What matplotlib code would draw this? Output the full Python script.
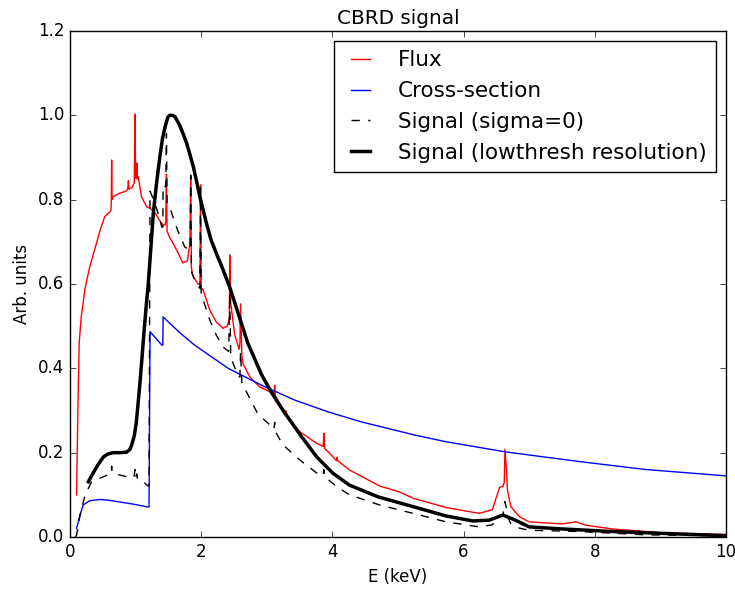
import matplotlib
matplotlib.use("Agg")
import matplotlib.pyplot as plt

plt.style.use("classic")

# Flux (red)
flux_E = [0.10, 0.12, 0.14, 0.17, 0.23, 0.30, 0.36, 0.46, 0.53, 0.60, 0.625, 0.63, 0.635, 0.64,
          0.66, 0.75, 0.85, 0.88, 0.89, 0.90, 0.95, 0.98, 0.99, 1.00, 1.01, 1.02, 1.03, 1.04,
          1.09, 1.17, 1.22, 1.29, 1.37, 1.42, 1.45, 1.46, 1.47, 1.48, 1.52, 1.57, 1.65, 1.72,
          1.79, 1.83, 1.84, 1.85, 1.87, 1.95, 1.98, 1.99, 2.00, 2.03, 2.13, 2.23, 2.33, 2.40,
          2.43, 2.435, 2.45, 2.51, 2.58, 2.59, 2.60, 2.62, 2.64, 2.74, 2.89, 3.04, 3.11, 3.12,
          3.13, 3.27, 3.29, 3.31, 3.50, 3.76, 3.86, 3.87, 3.88, 3.95, 4.06, 4.07, 4.08, 4.26,
          4.72, 5.02, 5.23, 5.73, 6.24, 6.44, 6.49, 6.55, 6.60, 6.62, 6.63, 6.65, 6.67, 6.72,
          6.85, 7.00, 7.50, 7.71, 7.86, 8.27, 9.03, 10.0]
flux_val = [0.10, 0.30, 0.46, 0.52, 0.59, 0.64, 0.673, 0.728, 0.76, 0.77, 0.775, 0.80, 0.894, 0.80,
            0.807, 0.815, 0.82, 0.825, 0.845, 0.825, 0.83, 0.84, 1.003, 0.86, 0.85, 0.887, 0.85, 0.854,
            0.807, 0.783, 0.78, 0.77, 0.75, 0.74, 0.74, 0.75, 0.86, 0.725, 0.71, 0.697, 0.673, 0.65,
            0.655, 0.70, 0.858, 0.64, 0.62, 0.60, 0.60, 0.835, 0.59, 0.586, 0.538, 0.51, 0.495, 0.50,
            0.52, 0.669, 0.555, 0.48, 0.445, 0.46, 0.553, 0.43, 0.41, 0.38, 0.356, 0.345, 0.338, 0.36,
            0.335, 0.297, 0.30, 0.288, 0.25, 0.222, 0.215, 0.246, 0.21, 0.20, 0.181, 0.189, 0.181, 0.159,
            0.121, 0.107, 0.092, 0.070, 0.056, 0.065, 0.09, 0.118, 0.12, 0.13, 0.208, 0.167, 0.11, 0.072,
            0.048, 0.036, 0.031, 0.036, 0.028, 0.019, 0.010, 0.006]

# Cross-section (blue)
xsec_E = [0.10, 0.15, 0.20, 0.30, 0.46, 0.60, 0.80, 1.00, 1.19, 1.205, 1.22, 1.40, 1.415, 1.42,
          1.50, 1.67, 1.90, 2.41, 2.92, 3.42, 3.93, 4.44, 5.25, 5.73, 6.63, 7.76, 8.78, 10.0]
xsec_val = [0.02, 0.05, 0.076, 0.086, 0.089, 0.087, 0.082, 0.077, 0.071, 0.071, 0.487, 0.455, 0.455, 0.522,
            0.51, 0.485, 0.455, 0.40, 0.36, 0.325, 0.297, 0.273, 0.242, 0.226, 0.202, 0.179, 0.16, 0.145]

# Signal, sigma=0 (dashed)
sig0_E = [0.08, 0.10, 0.15, 0.23, 0.33, 0.51, 0.625, 0.63, 0.635, 0.64, 0.76, 0.86, 0.89, 0.90,
          0.98, 0.99, 1.00, 1.02, 1.03, 1.10, 1.19, 1.205, 1.22, 1.30, 1.40, 1.415, 1.42, 1.46,
          1.47, 1.48, 1.52, 1.60, 1.67, 1.75, 1.83, 1.84, 1.85, 1.90, 1.98, 1.99, 2.00, 2.03,
          2.13, 2.23, 2.33, 2.42, 2.435, 2.45, 2.49, 2.57, 2.59, 2.60, 2.62, 2.86, 3.07, 3.11,
          3.12, 3.13, 3.25, 3.50, 3.80, 3.86, 3.87, 3.88, 4.07, 4.26, 4.72, 5.23, 5.73, 6.24,
          6.44, 6.49, 6.55, 6.60, 6.63, 6.65, 6.67, 6.72, 6.85, 7.00, 7.76, 8.78, 10.0]
sig0_val = [0.0, 0.004, 0.05, 0.10, 0.131, 0.143, 0.15, 0.152, 0.168, 0.152, 0.147, 0.143, 0.146, 0.143,
            0.145, 0.16, 0.14, 0.15, 0.137, 0.133, 0.121, 0.121, 0.82, 0.79, 0.735, 0.735, 0.835, 0.83,
            0.957, 0.79, 0.783, 0.744, 0.716, 0.688, 0.68, 0.858, 0.63, 0.61, 0.59, 0.828, 0.575, 0.562,
            0.515, 0.479, 0.451, 0.44, 0.578, 0.43, 0.41, 0.38, 0.38, 0.44, 0.365, 0.293, 0.262, 0.255,
            0.272, 0.25, 0.218, 0.183, 0.147, 0.146, 0.16, 0.143, 0.119, 0.10, 0.076, 0.056, 0.036, 0.024,
            0.029, 0.04, 0.052, 0.053, 0.084, 0.07, 0.048, 0.032, 0.021, 0.016, 0.013, 0.005, 0.003]

# Signal, lowthresh resolution (thick)
sigres_E = [0.28, 0.35, 0.43, 0.51, 0.58, 0.66, 0.76, 0.86, 0.91, 0.94, 0.98, 1.01, 1.04, 1.07,
            1.10, 1.13, 1.16, 1.19, 1.23, 1.27, 1.32, 1.37, 1.41, 1.45, 1.49, 1.52, 1.56, 1.60,
            1.67, 1.72, 1.78, 1.83, 1.88, 1.93, 1.98, 2.03, 2.08, 2.15, 2.23, 2.33, 2.44, 2.56,
            2.71, 2.92, 3.09, 3.27, 3.53, 3.76, 4.01, 4.26, 4.70, 5.23, 5.73, 6.14, 6.39, 6.60,
            6.76, 7.00, 7.51, 8.27, 10.0]
sigres_val = [0.131, 0.151, 0.172, 0.19, 0.197, 0.20, 0.20, 0.201, 0.207, 0.218, 0.24, 0.27, 0.32, 0.372,
              0.43, 0.49, 0.545, 0.594, 0.68, 0.768, 0.84, 0.902, 0.945, 0.973, 0.995, 1.0, 1.0, 0.997,
              0.977, 0.958, 0.933, 0.906, 0.878, 0.843, 0.807, 0.775, 0.744, 0.705, 0.673, 0.635, 0.59, 0.532,
              0.46, 0.385, 0.338, 0.295, 0.238, 0.19, 0.151, 0.123, 0.095, 0.072, 0.05, 0.038, 0.04, 0.052,
              0.042, 0.024, 0.019, 0.013, 0.003]

fig = plt.figure(figsize=(7.35, 5.92), dpi=100, facecolor="white")
ax = fig.add_axes([70 / 735, 55 / 592, 656 / 735, 506 / 592])

ax.plot(flux_E, flux_val, color="red", lw=1.0, label="Flux")
ax.plot(xsec_E, xsec_val, color="blue", lw=1.0, label="Cross-section")
ax.plot(sig0_E, sig0_val, "k--", lw=1.0, label="Signal (sigma=0)")
ax.plot(sigres_E, sigres_val, "k-", lw=2.5, label="Signal (lowthresh resolution)")

ax.set_xlim(0, 10)
ax.set_ylim(0, 1.2)
ax.set_xlabel("E (keV)", fontsize=12)
ax.set_ylabel("Arb. units", fontsize=12)
ax.set_title("CBRD signal", fontsize=14.4)
ax.legend(loc="upper right", fontsize=15.5, handlelength=1.5, handletextpad=1.0,
          labelspacing=0.5, borderpad=0.45, borderaxespad=0.45)

fig.savefig("out.png", dpi=100, facecolor="white")
